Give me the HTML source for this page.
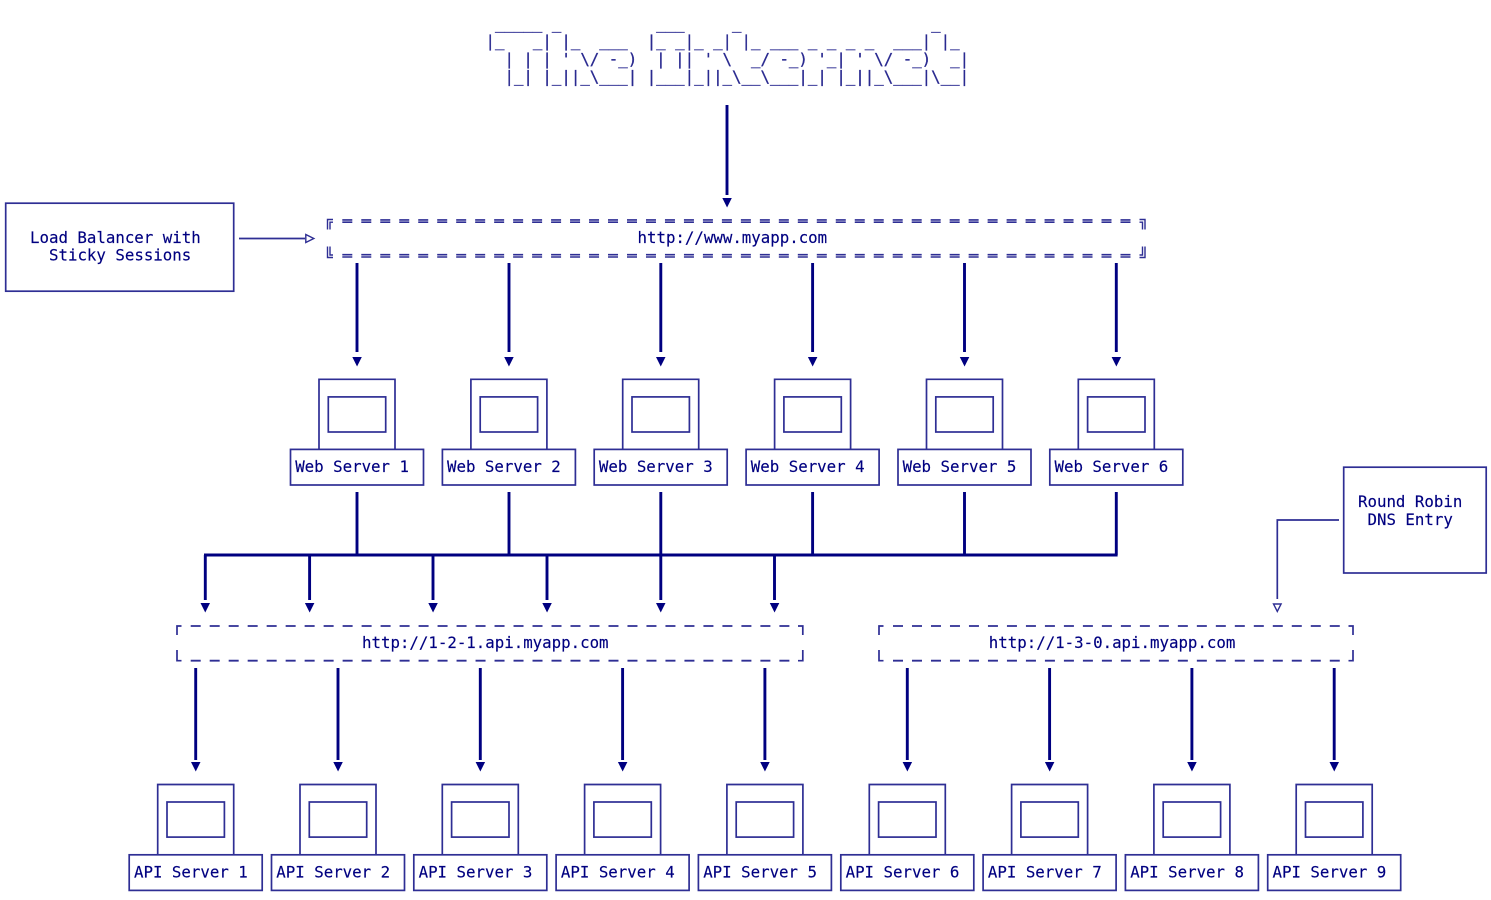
<!DOCTYPE html>
<html><head><meta charset="utf-8"><style>
html,body{margin:0;padding:0;background:#fff;width:1491px;height:900px;overflow:hidden}
svg{display:block}
text{font-family:"DejaVu Sans Mono","Liberation Mono",monospace;font-size:15.76px;fill:#000080;white-space:pre;stroke:#000080;stroke-width:.15}
.art text{fill:#2a2a90;stroke:#2a2a90;stroke-width:.3}
.b{fill:none;stroke:#000080;stroke-width:2.9}
.t{fill:none;stroke:#2e2e94;stroke-width:1.7}
.d{fill:none;stroke:#2e2e94;stroke-width:1.8;stroke-dasharray:10 8.99}
.d2{fill:none;stroke:#2e2e94;stroke-width:1.6;stroke-dasharray:10 8.98}
.h{fill:#fff;stroke:#2e2e94;stroke-width:1.4}
.a{fill:#000080}
</style></head><body>
<svg width="1491" height="900" viewBox="0 0 1491 900" xmlns="http://www.w3.org/2000/svg">
<g class="art">
<text x="485.5" y="29" xml:space="preserve"> _____ _          ___     _                    _</text>
<text x="485.5" y="46.7" xml:space="preserve">|_   _| |_  ___  |_ _|_ _| |_ ___ _ _ _ _  ___| |_</text>
<text x="485.5" y="64.3" xml:space="preserve">  | | | ' \/ -_)  | || ' \  _/ -_) '_| ' \/ -_)  _|</text>
<text x="485.5" y="82" xml:space="preserve">  |_| |_||_\___| |___|_||_\__\___|_| |_||_\___|\__|</text>
</g>

<path class="b" d="M727 105V195"/><path class="a" d="M722.3 198h9.5l-4.75 9.5z"/>

<rect class="t" x="5.7" y="203.2" width="228" height="88"/>
<text x="30" y="243" xml:space="preserve">Load Balancer with</text>
<text x="49" y="260.5" xml:space="preserve">Sticky Sessions</text>
<path class="t" d="M239 238.500H305"/><path class="h" d="M305.800 234.500l8 4-8 4z"/>

<path class="d2" d="M342.300 219.900H1131M342.300 222.200H1131M342.300 254.700H1131M342.300 257H1131"/>
<path class="t" d="M327.500 229.500V219.500H333M330 229.500V222.200H333M1145 229.500V219.500H1139.500M1142.500 229.500V222.200H1139.500M327.500 246.500V257.500H333M330 246.500V255H333M1145 246.500V257.500H1139.500M1142.500 246.500V255H1139.500" style="stroke-width:1.4"/>
<text x="637.500" y="243">http://www.myapp.com</text>

<!-- LB to web -->
<path class="b" d="M357 263V352M509 263V352M660.800 263V352M812.600 263V352M964.500 263V352M1116.300 263V352"/>
<path class="a" d="M352.300 357h9.500l-4.750 9.500zM504.200 357h9.500l-4.750 9.500zM656 357h9.500l-4.750 9.500zM807.900 357h9.500l-4.750 9.500zM959.800 357h9.500l-4.750 9.500zM1111.600 357h9.500l-4.750 9.500z"/>

<!-- web servers -->
<path class="t" d="M319 449V379.300H395V449M470.900 449V379.300H546.900V449M622.700 449V379.300H698.700V449M774.600 449V379.300H850.600V449M926.500 449V379.300H1002.500V449M1078.300 449V379.300H1154.300V449"/>
<rect class="t" x="328.300" y="396.900" width="57.400" height="35.100"/><rect class="t" x="480.200" y="396.900" width="57.400" height="35.100"/><rect class="t" x="632" y="396.900" width="57.400" height="35.100"/><rect class="t" x="783.900" y="396.900" width="57.400" height="35.100"/><rect class="t" x="935.800" y="396.900" width="57.400" height="35.100"/><rect class="t" x="1087.600" y="396.900" width="57.400" height="35.100"/>
<rect class="t" x="290.500" y="449.400" width="133" height="35.600"/><rect class="t" x="442.400" y="449.400" width="133" height="35.600"/><rect class="t" x="594.200" y="449.400" width="133" height="35.600"/><rect class="t" x="746.100" y="449.400" width="133" height="35.600"/><rect class="t" x="898" y="449.400" width="133" height="35.600"/><rect class="t" x="1049.800" y="449.400" width="133" height="35.600"/>
<text x="295.200" y="472">Web Server 1</text><text x="447" y="472">Web Server 2</text><text x="598.900" y="472">Web Server 3</text><text x="750.800" y="472">Web Server 4</text><text x="902.600" y="472">Web Server 5</text><text x="1054.500" y="472">Web Server 6</text>

<!-- bus -->
<path class="b" d="M357 492V555M509 492V555M660.800 492V555M812.600 492V555M964.500 492V555M1116.300 492V555M204 555H1117.600"/>
<path class="b" d="M205.300 555V600M309.600 555V600M433 555V600M547 555V600M660.800 555V600M774.500 555V600"/>
<path class="a" d="M200.500 603h9.500l-4.750 9.500zM304.900 603h9.500l-4.750 9.500zM428.300 603h9.500l-4.750 9.500zM542.300 603h9.500l-4.750 9.500zM656 603h9.500l-4.750 9.500zM769.800 603h9.500l-4.750 9.500z"/>

<!-- DNS note -->
<rect class="t" x="1343.700" y="467.200" width="142.500" height="105.800"/>
<text x="1358" y="507" xml:space="preserve">Round Robin</text>
<text x="1367.500" y="525" xml:space="preserve">DNS Entry</text>
<path class="t" d="M1339 520H1277.300V599"/><path class="h" d="M1273.500 604h7.600l-3.800 7.500z"/>

<!-- API LBs -->
<path class="d" d="M190.700 626H790M190.700 660.700H790M893 626H1340M893 660.700H1340"/>
<path class="t" d="M177 635V626H181.500M177 650V660.700H181.500M802.800 635V626H798M802.800 650V660.700H798M879 635V626H883.500M879 650V660.700H883.500M1353 635V626H1348.500M1353 650V660.700H1348.500"/>
<text x="362" y="648">http://1-2-1.api.myapp.com</text>
<text x="988.800" y="648">http://1-3-0.api.myapp.com</text>

<path class="b" d="M195.700 668V760M338 668V760M480.300 668V760M622.600 668V760M764.900 668V760M907.300 668V760M1049.600 668V760M1191.900 668V760M1334.200 668V760"/>
<path class="a" d="M191 762h9.500l-4.750 9.500zM333.300 762h9.500l-4.750 9.500zM475.600 762h9.500l-4.750 9.500zM617.900 762h9.500l-4.750 9.500zM760.200 762h9.500l-4.750 9.500zM902.600 762h9.500l-4.750 9.500zM1044.900 762h9.500l-4.750 9.500zM1187.200 762h9.500l-4.750 9.500zM1329.500 762h9.500l-4.750 9.500z"/>

<!-- API servers -->
<path class="t" d="M157.700 855V784.500H233.700V855M300 855V784.500H376V855M442.300 855V784.500H518.300V855M584.600 855V784.500H660.600V855M726.900 855V784.500H802.900V855M869.300 855V784.500H945.300V855M1011.600 855V784.500H1087.600V855M1153.900 855V784.500H1229.900V855M1296.200 855V784.500H1372.200V855"/>
<rect class="t" x="167" y="802" width="57.400" height="35.100"/><rect class="t" x="309.300" y="802" width="57.400" height="35.100"/><rect class="t" x="451.600" y="802" width="57.400" height="35.100"/><rect class="t" x="593.900" y="802" width="57.400" height="35.100"/><rect class="t" x="736.200" y="802" width="57.400" height="35.100"/><rect class="t" x="878.600" y="802" width="57.400" height="35.100"/><rect class="t" x="1020.900" y="802" width="57.400" height="35.100"/><rect class="t" x="1163.200" y="802" width="57.400" height="35.100"/><rect class="t" x="1305.500" y="802" width="57.400" height="35.100"/>
<rect class="t" x="129.200" y="854.800" width="133" height="35.600"/><rect class="t" x="271.500" y="854.800" width="133" height="35.600"/><rect class="t" x="413.800" y="854.800" width="133" height="35.600"/><rect class="t" x="556.100" y="854.800" width="133" height="35.600"/><rect class="t" x="698.400" y="854.800" width="133" height="35.600"/><rect class="t" x="840.800" y="854.800" width="133" height="35.600"/><rect class="t" x="983.100" y="854.800" width="133" height="35.600"/><rect class="t" x="1125.400" y="854.800" width="133" height="35.600"/><rect class="t" x="1267.700" y="854.800" width="133" height="35.600"/>
<text x="134" y="877.300">API Server 1</text><text x="276.300" y="877.300">API Server 2</text><text x="418.600" y="877.300">API Server 3</text><text x="560.900" y="877.300">API Server 4</text><text x="703.200" y="877.300">API Server 5</text><text x="845.600" y="877.300">API Server 6</text><text x="987.900" y="877.300">API Server 7</text><text x="1130.200" y="877.300">API Server 8</text><text x="1272.500" y="877.300">API Server 9</text>
</svg>
</body></html>
